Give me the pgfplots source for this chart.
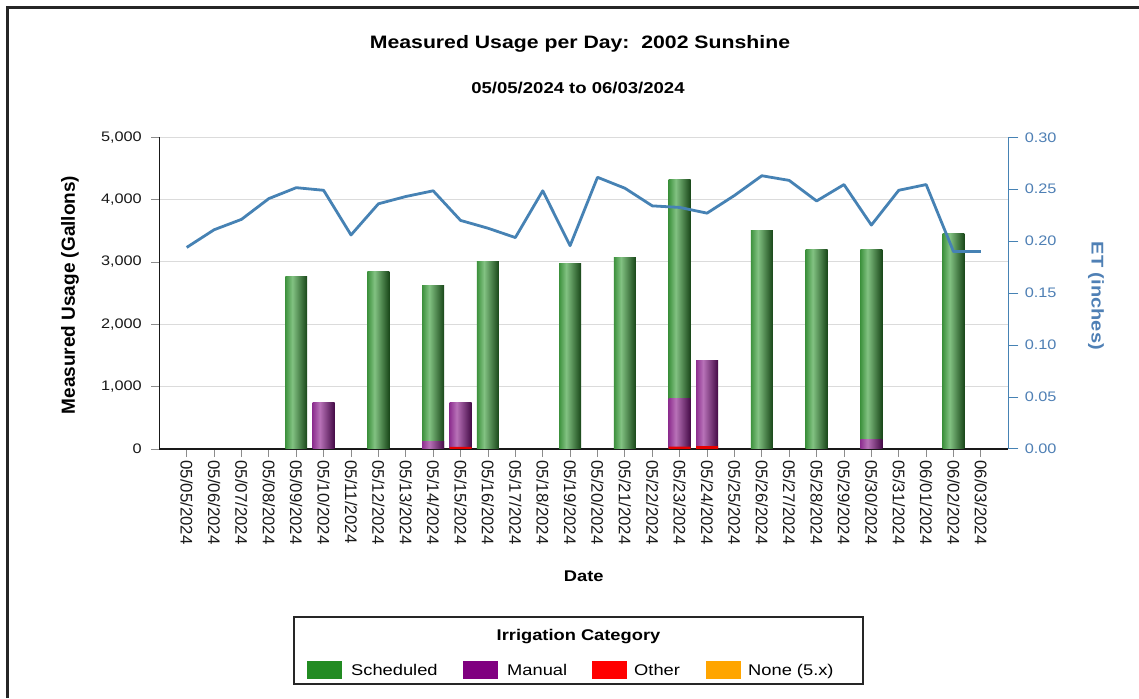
\documentclass[border=0pt]{standalone}
\usepackage{fontspec}
\setmainfont{Liberation Sans}
\newfontfamily\hfont[FakeStretch=1.18]{Liberation Sans}
\usepackage{pgfplots}
\pgfplotsset{compat=1.18}
\definecolor{etblue}{HTML}{4682B4}
\definecolor{etlab}{HTML}{4F80B5}
\definecolor{g1}{HTML}{3E923E}
\definecolor{g2}{HTML}{82C282}
\definecolor{g3}{HTML}{184618}
\definecolor{p1}{HTML}{8E3090}
\definecolor{p2}{HTML}{B872B8}
\definecolor{p3}{HTML}{440A46}
\definecolor{legG}{HTML}{228B22}
\definecolor{legP}{HTML}{800080}
\definecolor{legR}{HTML}{FF0000}
\definecolor{legO}{HTML}{FFA500}
\pgfdeclarehorizontalshading{greenbar}{100bp}{color(0bp)=(g1); color(25bp)=(g1); color(41bp)=(g2); color(75bp)=(g3); color(100bp)=(g3)}
\pgfdeclarehorizontalshading{purplebar}{100bp}{color(0bp)=(p1); color(25bp)=(p1); color(41bp)=(p2); color(75bp)=(p3); color(100bp)=(p3)}
\pgfplotsset{
  gbar/.style={ybar, bar width=0.8, bar shift=0pt, draw=none, shading=greenbar},
  pbar/.style={ybar, bar width=0.8, bar shift=0pt, draw=none, shading=purplebar},
  rbar/.style={ybar, bar width=0.8, bar shift=0pt, draw=none, fill=red!90!black},
}
\begin{document}
\begin{tikzpicture}[x=1pt,y=1pt]
\useasboundingbox (0,0) rectangle (1139,698);
\fill[white] (0,0) rectangle (1139,698);
\draw[line width=3pt, black!85] (7,0) -- (7,690.7) -- (1139,690.7);
\begin{axis}[
  at={(159.3pt,249pt)}, anchor=south west,
  scale only axis, width=849pt, height=311.7pt,
  xmin=-1, xmax=30, ymin=0, ymax=5000,
  axis x line*=bottom, axis y line*=left,
  axis line style={-, black!90, line width=1.3pt},
  ytick={0,1000,2000,3000,4000,5000},
  xtick={0,...,29},
  xticklabels={05/05/2024,05/06/2024,05/07/2024,05/08/2024,05/09/2024,05/10/2024,05/11/2024,05/12/2024,05/13/2024,05/14/2024,05/15/2024,05/16/2024,05/17/2024,05/18/2024,05/19/2024,05/20/2024,05/21/2024,05/22/2024,05/23/2024,05/24/2024,05/25/2024,05/26/2024,05/27/2024,05/28/2024,05/29/2024,05/30/2024,05/31/2024,06/01/2024,06/02/2024,06/03/2024},
  x tick label style={rotate=-90, anchor=west, text=black!90, font=\fontsize{16.8}{18}\selectfont},
  y tick label style={text=black!90, font=\hfont\fontsize{13.8}{15}\selectfont, xshift=-6pt},
  /pgf/number format/assume math mode=true,
  /pgf/number format/1000 sep={,},
  scaled y ticks=false,
  tick align=outside,
  major tick length=8pt,
  tick style={black!45, line width=0.9pt},
  ymajorgrids, grid style={black!14, line width=1pt},
]
\addplot[gbar] coordinates {(4,2760)};
\addplot[gbar] coordinates {(7,2850)};
\addplot[gbar] coordinates {(9,2630)};
\addplot[gbar] coordinates {(11,3000)};
\addplot[gbar] coordinates {(14,2970)};
\addplot[gbar] coordinates {(16,3075)};
\addplot[gbar] coordinates {(18,4315)};
\addplot[gbar] coordinates {(21,3500)};
\addplot[gbar] coordinates {(23,3200)};
\addplot[gbar] coordinates {(25,3200)};
\addplot[gbar] coordinates {(28,3460)};
\addplot[pbar] coordinates {(5,750)};
\addplot[pbar] coordinates {(9,125)};
\addplot[pbar] coordinates {(10,750)};
\addplot[pbar] coordinates {(18,805)};
\addplot[pbar] coordinates {(19,1415)};
\addplot[pbar] coordinates {(25,160)};
\addplot[rbar] coordinates {(10,35) (18,40) (19,45)};
\end{axis}
\begin{axis}[
  at={(159.3pt,249pt)}, anchor=south west,
  scale only axis, width=849pt, height=311.7pt,
  xmin=-1, xmax=30, ymin=0, ymax=0.3,
  axis x line=none, axis y line*=right,
  axis line style={-, etblue, line width=1.6pt},
  ytick={0,0.05,0.1,0.15,0.2,0.25,0.3},
  yticklabel style={text=etlab, font=\hfont\fontsize{13.8}{15}\selectfont, xshift=3pt, /pgf/number format/.cd, fixed, fixed zerofill, precision=2},
  /pgf/number format/assume math mode=true,
  tick align=outside,
  major tick length=10pt,
  tick style={etblue, line width=1pt},
]
\addplot[etblue, line width=2.8pt, no markers, line join=round] coordinates {
(0,0.194) (1,0.211) (2,0.221) (3,0.241) (4,0.2515) (5,0.249) (6,0.206) (7,0.236) (8,0.243) (9,0.2485)
(10,0.220) (11,0.2125) (12,0.2035) (13,0.2485) (14,0.1957) (15,0.2615) (16,0.251) (17,0.234) (18,0.2325) (19,0.227)
(20,0.244) (21,0.263) (22,0.2585) (23,0.2387) (24,0.2545) (25,0.2155) (26,0.249) (27,0.2545) (28,0.190) (29,0.190)};
\end{axis}
\node[anchor=base, font=\hfont\bfseries\fontsize{18}{20}\selectfont] at (580,649) {Measured Usage per Day:\ \ 2002 Sunshine};
\node[anchor=base, font=\hfont\bfseries\fontsize{15.7}{18}\selectfont] at (578,604.7) {05/05/2024 to 06/03/2024};
\node[rotate=90, font=\bfseries\fontsize{19}{21}\selectfont] at (70,403) {Measured Usage (Gallons)};
\node[rotate=-90, text=etlab, font=\hfont\bfseries\fontsize{17}{19}\selectfont] at (1096,402.2) {ET (inches)};
\node[anchor=base, font=\hfont\bfseries\fontsize{15.5}{17}\selectfont] at (583.8,116.3) {Date};
\draw[line width=1.2pt, black!85] (294,81) rectangle (863,14);
\node[anchor=base, font=\hfont\bfseries\fontsize{15.5}{17}\selectfont] at (578.5,57) {Irrigation Category};
\fill[legG] (306.6,19.5) rectangle (341.5,36.5);
\node[anchor=base west, inner sep=0pt, font=\hfont\fontsize{15.5}{17}\selectfont] at (351,22.5) {Scheduled};
\fill[legP] (463,19.5) rectangle (498,36.5);
\node[anchor=base west, inner sep=0pt, font=\hfont\fontsize{15.5}{17}\selectfont] at (507,22.5) {Manual};
\fill[legR] (591.5,19.5) rectangle (626.5,36.5);
\node[anchor=base west, inner sep=0pt, font=\hfont\fontsize{15.5}{17}\selectfont] at (634,22.5) {Other};
\fill[legO] (705.6,19.5) rectangle (740.7,36.5);
\node[anchor=base west, inner sep=0pt, font=\hfont\fontsize{15.5}{17}\selectfont] at (748,22.5) {None (5.x)};
\end{tikzpicture}
\end{document}
